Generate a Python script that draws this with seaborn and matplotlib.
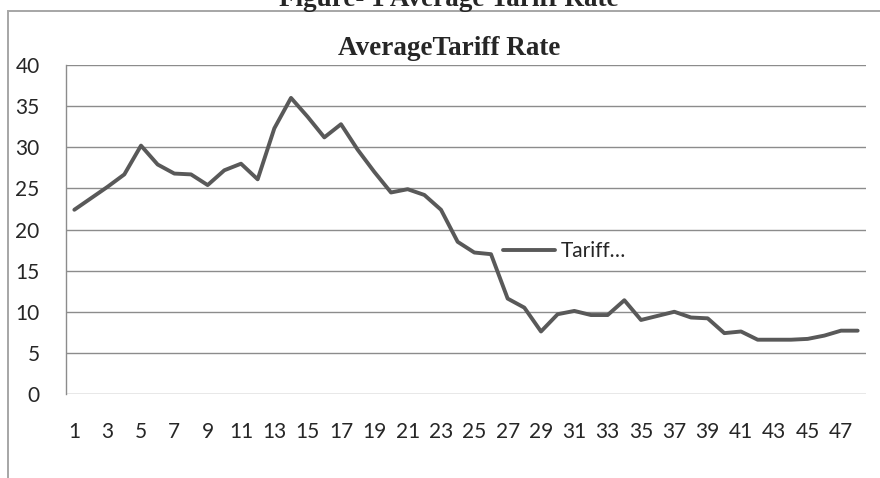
import numpy as np
import pandas as pd
import matplotlib.pyplot as plt
import matplotlib.patches as patches
import seaborn as sns

# Data
periods = list(range(1, 49))
tariff = [
    22.4, 23.8, 25.2, 26.7, 30.2, 27.9, 26.8, 26.7, 25.4, 27.2,
    28.0, 26.1, 32.3, 36.0, 33.7, 31.2, 32.8, 29.7, 27.0, 24.5,
    24.9, 24.2, 22.4, 18.5, 17.2, 17.0, 11.6, 10.5, 7.6, 9.7,
    10.1, 9.6, 9.6, 11.4, 9.0, 9.5, 10.0, 9.3, 9.2, 7.4,
    7.6, 6.6, 6.6, 6.6, 6.7, 7.1, 7.7, 7.7,
]
x_tick_pos = list(range(1, 49, 2))
x_tick_labels = [str(p) for p in x_tick_pos]
y_ticks = [0, 5, 10, 15, 20, 25, 30, 35, 40]

df = pd.DataFrame({"Period": periods, "Tariff": tariff})

sns.set_style("white")
plt.rcParams["font.family"] = ["Lato", "DejaVu Sans"]

grid_col = "#8c8c8c"
line_col = "#595959"

fig = plt.figure(figsize=(8.8, 4.78), dpi=100)
ax = fig.add_axes([66 / 880, 1 - 394 / 478, 800 / 880, 329 / 478])

sns.lineplot(data=df, x="Period", y="Tariff", ax=ax, color=line_col,
             linewidth=2.8, label="Tariff\u2026")

ax.set_xlim(0.5, 48.5)
ax.set_ylim(0, 40)
ax.set_yticks(y_ticks)
ax.set_xticks(x_tick_pos)
ax.set_xticklabels(x_tick_labels)
ax.set_xticks([0.5], minor=True)
ax.set_xlabel("")
ax.set_ylabel("")

ax.yaxis.grid(True, color=grid_col, linewidth=1.0)
ax.xaxis.grid(False)
ax.set_axisbelow(True)

for side in ["top", "right", "bottom"]:
    ax.spines[side].set_visible(False)
ax.spines["left"].set_color(grid_col)
ax.spines["left"].set_linewidth(1.0)

ax.tick_params(axis="y", which="major", direction="out", length=6, width=1.0,
               color=grid_col, labelsize=15, pad=13)
ax.tick_params(axis="x", which="major", length=0, labelsize=15, pad=20)
ax.tick_params(axis="x", which="minor", direction="out", length=6, width=1.0,
               color=grid_col)

ax.set_title("AverageTariff Rate", fontfamily="Liberation Serif",
             fontweight="bold", fontsize=19.5, pad=7, x=(449 - 66) / 800)

ax.legend(loc="center left", bbox_to_anchor=(0.546, 0.435), frameon=False,
          fontsize=15, handlelength=2.5, handletextpad=0.3, borderpad=0,
          borderaxespad=0)

# outer chart frame (clipped by the image edges)
frame = patches.Rectangle((8 / 880, -0.1), 1.0, 1 - 11 / 478 + 0.1,
                          transform=fig.transFigure, fill=False,
                          edgecolor="#a6a6a6", linewidth=1.4)
fig.add_artist(frame)

# document caption above the frame, cut off by the image top as in the source
fig.text(449 / 880, 1 - 6 / 478, "Figure- 1 Average Tariff Rate",
         fontfamily="Liberation Serif", fontweight="bold", fontsize=19.5,
         ha="center", va="baseline")

fig.savefig("out.png", dpi=100)
